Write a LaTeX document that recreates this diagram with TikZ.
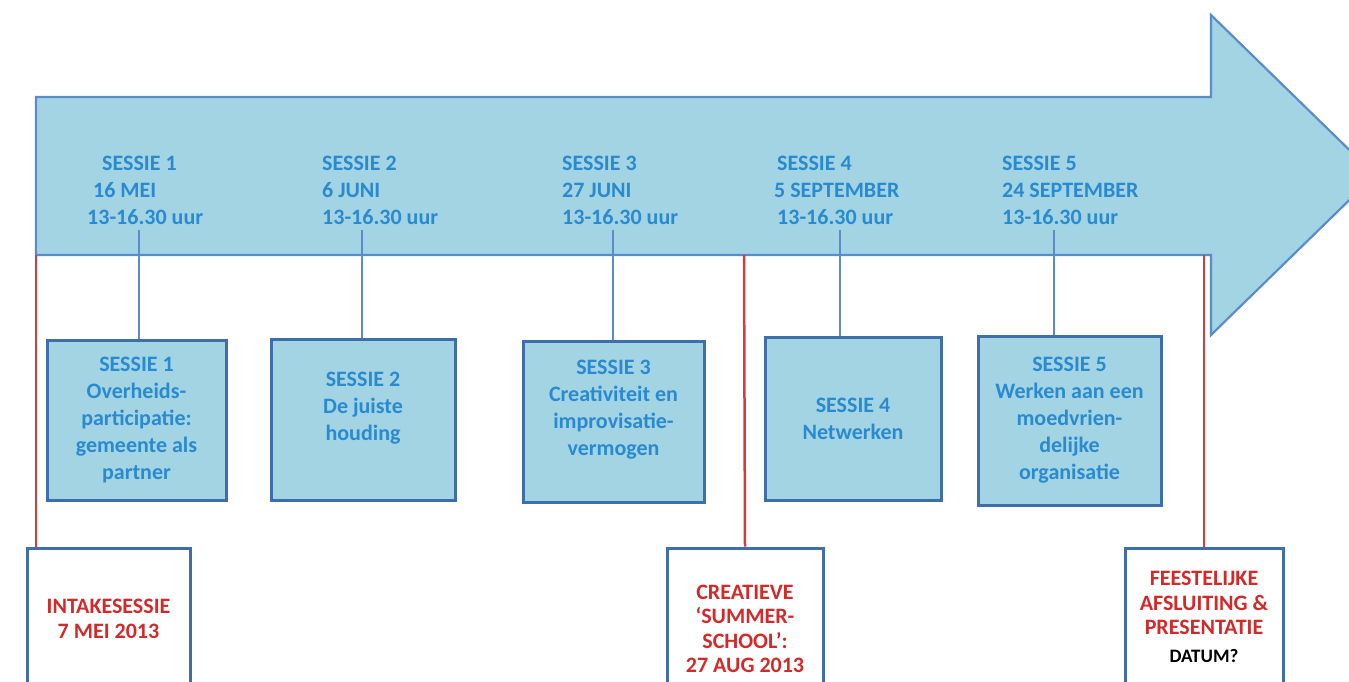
\documentclass[tikz,border=0pt]{standalone}
\usepackage{fontspec}
\setmainfont{Carlito}
\definecolor{arrowfill}{HTML}{A2D4E3}
\definecolor{arrowline}{HTML}{5A8CCB}
\definecolor{boxline}{HTML}{3F6FA8}
\definecolor{bluetext}{HTML}{2A8AD0}
\definecolor{redline}{HTML}{D43C3C}
\definecolor{redtext}{HTML}{D22A2A}
\begin{document}
\begin{tikzpicture}[x=1pt,y=-1pt,
  arrowtext/.style={anchor=base west,inner sep=0pt,text=bluetext,font=\fontsize{22}{27}\selectfont\bfseries},
  sessbox/.style={draw=boxline,line width=3pt,fill=arrowfill,inner sep=0pt,align=center,text=bluetext,font=\fontsize{22}{27}\selectfont\bfseries},
  whitebox/.style={draw=boxline,line width=3pt,fill=white,inner sep=0pt,align=center,text=redtext,font=\fontsize{22}{24.5}\selectfont\bfseries},
  conn/.style={draw=arrowline,line width=1.8pt},
  redconn/.style={draw=redline,line width=2.5pt}]
\useasboundingbox (0,0) rectangle (1349,682);
\clip (0,0) rectangle (1349,682);
% big arrow
\draw[fill=arrowfill,draw=arrowline,line width=2.2pt,line join=miter]
  (36,97) -- (1211,97) -- (1211,15) -- (1375,175) -- (1211,335) -- (1211,255) -- (36,255) -- cycle;
\coordinate (abot1) at (36,255);
\coordinate (abot2) at (744,255);
\coordinate (abot3) at (1204,255);
% arrow texts
\node[arrowtext] (s1a) at (102,170) {SESSIE 1};
\node[arrowtext] (s1b) at (93,197) {16 MEI};
\node[arrowtext] (t1) at (87,224) {13-16.30 uur};
\node[arrowtext] (s2a) at (322,170) {SESSIE 2};
\node[arrowtext] (s2b) at (322,197) {6 JUNI};
\node[arrowtext] (t2) at (322,224) {13-16.30 uur};
\node[arrowtext] (s3a) at (562,170) {SESSIE 3};
\node[arrowtext] (s3b) at (562,197) {27 JUNI};
\node[arrowtext] (t3) at (562,224) {13-16.30 uur};
\node[arrowtext] (s4a) at (777,170) {SESSIE 4};
\node[arrowtext] (s4b) at (774,197) {5 SEPTEMBER};
\node[arrowtext] (t4) at (777,224) {13-16.30 uur};
\node[arrowtext] (s5a) at (1002,170) {SESSIE 5};
\node[arrowtext] (s5b) at (1002,197) {24 SEPTEMBER};
\node[arrowtext] (t5) at (1002,224) {13-16.30 uur};
% session boxes
\node[sessbox,minimum width=179,minimum height=160] (b1) at (136.5,420) {SESSIE 1\\Overheids-\\participatie:\\gemeente als\\partner};
\node[sessbox,minimum width=184,minimum height=161] (b2) at (363,419.5) {SESSIE 2\\De juiste\\houding\\\mbox{}};
\node[sessbox,minimum width=181,minimum height=161] (b3) at (613.5,421.5) {SESSIE 3\\Creativiteit en\\improvisatie-\\vermogen\\\mbox{}};
\node[sessbox,minimum width=176,minimum height=163] (b4) at (853,418.5) {SESSIE 4\\Netwerken};
\node[sessbox,minimum width=183,minimum height=169] (b5) at (1069.5,420.5) {SESSIE 5\\Werken aan een\\moedvrien-\\delijke\\organisatie};
% connectors from time lines to boxes
\draw[conn] ([xshift=2.5pt]b1.north) -- ([xshift=2.5pt,yshift=-6pt]b1.north |- t1.south);
\draw[conn] ([xshift=-1pt]b2.north) -- ([xshift=-1pt,yshift=-6pt]b2.north |- t2.south);
\draw[conn] ([xshift=-0.5pt]b3.north) -- ([xshift=-0.5pt,yshift=-6pt]b3.north |- t3.south);
\draw[conn] ([xshift=-13pt]b4.north) -- ([xshift=-13pt,yshift=-6pt]b4.north |- t4.south);
\draw[conn] ([xshift=-15.5pt]b5.north) -- ([xshift=-15.5pt,yshift=-6pt]b5.north |- t5.south);
% white boxes
\node[whitebox,minimum width=163,minimum height=142] (w1) at (108.5,619) {INTAKESESSIE\\7 MEI 2013};
\node[whitebox,minimum width=156,minimum height=162] (w2) at (745,629) {CREATIEVE\\‘SUMMER-\\SCHOOL’:\\27 AUG 2013};
\node[whitebox,minimum width=158,minimum height=138] (w3) at (1204,617) {FEESTELIJKE\\AFSLUITING \&\\PRESENTATIE\\[3pt]{\color{black}\fontsize{19}{22}\selectfont DATUM?}};
% red connectors
\draw[redconn] (abot1) -- (abot1 |- w1.north);
\draw[redconn] (abot2) -- (w2.north);
\draw[redconn] (abot3) -- (w3.north);
\end{tikzpicture}
\end{document}
